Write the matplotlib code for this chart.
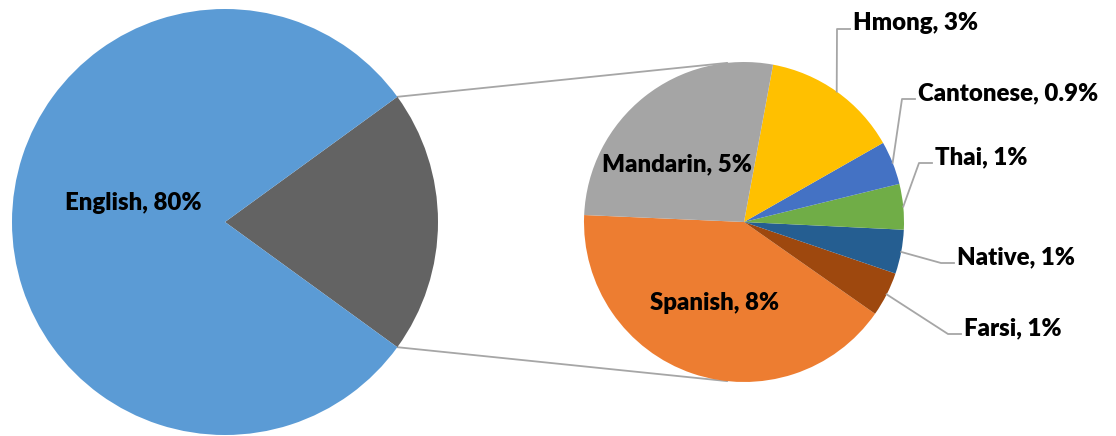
import numpy as np
import matplotlib
matplotlib.use('Agg')
import matplotlib.pyplot as plt
from matplotlib.patches import ConnectionPatch

# main pie: "Other" is the slice that gets broken out
main_names = ['Other', 'English']
main_values = [20, 80]
main_colors = ['#636363', '#5B9BD5']

# breakdown of the 20% (counter-clockwise from the left edge of the second pie)
sub_names = ['Spanish', 'Farsi', 'Native', 'Thai', 'Cantonese', 'Hmong', 'Mandarin']
sub_values = [8.19, 0.90, 0.89, 0.92, 0.88, 2.77, 5.44]
sub_text = ['8%', '1%', '1%', '1%', '0.9%', '3%', '5%']
sub_colors = ['#ED7D31', '#9E480E', '#255E91', '#70AD47', '#4472C4', '#FFC000', '#A5A5A5']

W, H = 1116, 436
plt.rcParams['font.family'] = ['Lato', 'DejaVu Sans']
FS = 17.3
WEIGHT = 'heavy'
LINE = '#A6A6A6'

fig = plt.figure(figsize=(W / 100, H / 100), dpi=100)

# left pie
ax1 = fig.add_axes([12 / W, 1 / H, 426 / W, 426 / H])
start1 = -main_values[0] / sum(main_values) * 360 / 2
w1, _ = ax1.pie(main_values, colors=main_colors, startangle=start1,
                wedgeprops=dict(linewidth=0))
ax1.set_aspect('auto')
ax1.set_xlim(-1, 1)
ax1.set_ylim(-1, 1)

# right pie
ax2 = fig.add_axes([584 / W, 54 / H, 320 / W, 320 / H])
w2, _ = ax2.pie(sub_values, colors=sub_colors, startangle=177.5,
                wedgeprops=dict(linewidth=0))
ax2.set_aspect('auto')
ax2.set_xlim(-1, 1)
ax2.set_ylim(-1, 1)

# connector lines between the two pies
a = np.deg2rad(w1[0].theta2)
b = np.deg2rad(w1[0].theta1)
for p1, ang in [((np.cos(a), np.sin(a)), 96), ((np.cos(b), np.sin(b)), 264)]:
    p2 = (np.cos(np.deg2rad(ang)), np.sin(np.deg2rad(ang)))
    con = ConnectionPatch(xyA=p1, coordsA=ax1.transData, xyB=p2, coordsB=ax2.transData,
                          color=LINE, lw=1.3, zorder=0)
    fig.add_artist(con)

# overlay in pixel coordinates for labels
ov = fig.add_axes([0, 0, 1, 1], zorder=5)
ov.set_xlim(0, W)
ov.set_ylim(H, 0)
ov.axis('off')
ov.patch.set_alpha(0)

def to_px(ax, x, y):
    d = ax.transData.transform((x, y))
    return ov.transData.inverted().transform(d)

ov.text(133, 210, f'English, {main_values[1]}%', ha='center', va='baseline',
        fontsize=FS, fontweight=WEIGHT)

inside = {'Mandarin': (677, 171), 'Spanish': (715, 310)}
elbows = {'Hmong': (837, 29), 'Cantonese': (902, 99), 'Thai': (919, 163),
          'Native': (941, 263), 'Farsi': (948, 334)}

for wedge, name, txt in zip(w2, sub_names, sub_text):
    label = f'{name}, {txt}'
    if name in inside:
        x, y = inside[name]
        ov.text(x, y, label, ha='center', va='baseline', fontsize=FS, fontweight=WEIGHT)
        continue
    mid = np.deg2rad((wedge.theta1 + wedge.theta2) / 2)
    sx, sy = to_px(ax2, np.cos(mid), np.sin(mid))
    ex, ey = elbows[name]
    ov.plot([sx, ex, ex + 13], [sy, ey, ey], color=LINE, lw=1.3)
    ov.text(ex + 16, ey + 1, label, ha='left', va='baseline', fontsize=FS, fontweight=WEIGHT)

fig.savefig('out.png', dpi=100)
